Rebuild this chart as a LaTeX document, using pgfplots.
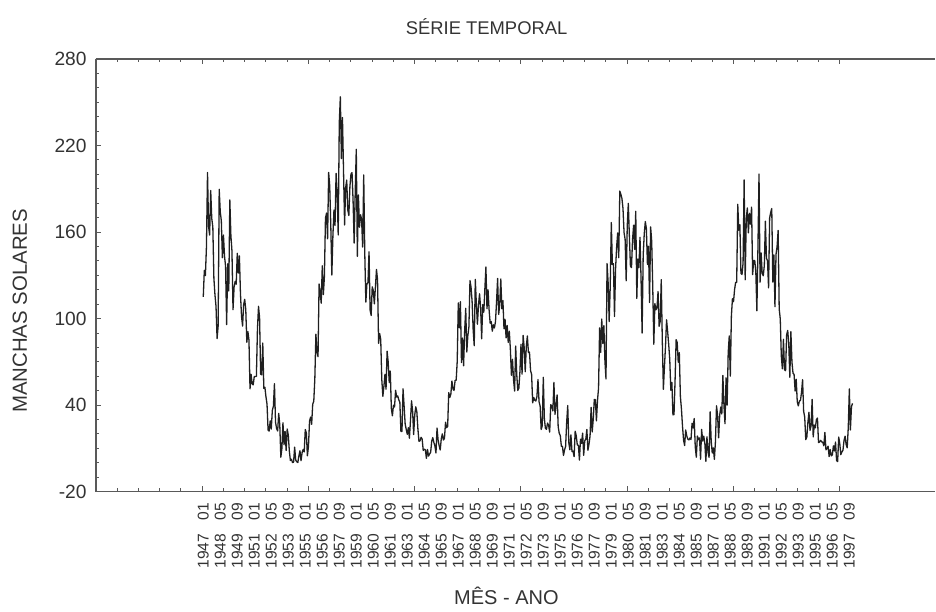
\documentclass[border=0pt]{standalone}
\usepackage{fontspec}
\setmainfont{Liberation Sans}
\usepackage{pgfplots}
\usepackage{pgfplotstable}
\pgfplotsset{compat=1.18}

% Monthly sunspot numbers, January 1947 -- December 1997 (one row per month)
\pgfplotstableread[row sep=\\]{
ssn\\
115.0\\133.4\\129.8\\149.8\\201.3\\163.9\\157.9\\188.8\\169.4\\163.6\\128.0\\116.5\\
108.5\\86.1\\94.8\\189.7\\174.0\\167.8\\142.2\\157.9\\143.3\\136.3\\95.8\\138.0\\
119.1\\182.3\\157.5\\147.0\\106.2\\121.7\\125.8\\123.8\\145.3\\131.6\\143.5\\117.6\\
101.6\\94.8\\109.7\\113.4\\106.2\\83.6\\91.0\\85.2\\51.3\\61.4\\54.8\\54.1\\
59.9\\59.9\\59.9\\92.9\\108.5\\100.6\\61.5\\61.0\\83.1\\51.6\\52.4\\45.8\\
40.7\\22.7\\22.0\\29.1\\23.4\\36.4\\39.3\\54.9\\28.2\\23.8\\22.1\\34.3\\
26.5\\3.9\\10.0\\27.8\\12.5\\21.8\\8.6\\23.5\\19.3\\8.2\\1.6\\2.5\\
0.2\\0.5\\10.9\\1.8\\0.8\\0.2\\4.8\\8.4\\1.5\\7.0\\9.2\\7.6\\
23.1\\20.8\\4.9\\11.3\\28.9\\31.7\\26.7\\40.7\\42.7\\58.5\\89.2\\76.9\\
73.6\\124.0\\118.4\\110.7\\136.6\\116.6\\129.1\\169.6\\173.2\\155.3\\201.3\\192.1\\
165.0\\130.2\\157.4\\175.2\\164.6\\200.7\\187.2\\158.0\\235.8\\253.8\\210.9\\239.4\\
202.5\\164.9\\190.7\\196.0\\175.3\\171.5\\191.4\\200.2\\201.2\\181.5\\152.3\\187.6\\
217.4\\143.1\\185.7\\163.3\\172.0\\168.7\\149.6\\199.6\\145.2\\111.4\\124.0\\125.0\\
146.3\\106.0\\102.2\\122.0\\119.6\\110.2\\121.7\\134.1\\127.2\\82.8\\89.6\\85.6\\
57.9\\46.1\\53.0\\61.4\\51.0\\77.4\\70.2\\55.8\\63.6\\37.7\\32.6\\40.0\\
38.7\\50.3\\45.6\\46.4\\43.7\\42.0\\21.8\\21.8\\51.3\\39.5\\26.9\\23.2\\
19.8\\24.4\\17.1\\29.3\\43.0\\35.9\\19.6\\33.2\\38.8\\35.3\\23.4\\14.9\\
15.3\\17.7\\16.5\\8.6\\9.5\\9.1\\3.1\\9.3\\4.7\\6.1\\7.4\\15.1\\
17.5\\14.2\\11.7\\6.8\\24.1\\15.9\\11.9\\8.9\\16.8\\20.1\\15.8\\17.0\\
28.2\\24.4\\25.3\\48.7\\45.3\\47.7\\56.7\\51.2\\50.2\\57.2\\57.2\\70.4\\
110.9\\93.6\\111.8\\69.5\\86.5\\67.3\\91.5\\107.2\\76.8\\88.2\\94.3\\126.4\\
121.8\\111.9\\92.2\\81.2\\127.2\\110.3\\96.1\\109.3\\117.2\\107.7\\86.0\\109.8\\
104.4\\120.5\\135.8\\106.8\\120.0\\106.0\\96.8\\98.0\\91.3\\95.7\\93.5\\97.9\\
111.5\\127.8\\102.9\\109.5\\127.5\\106.8\\112.5\\93.0\\99.5\\86.6\\95.2\\83.5\\
91.3\\79.0\\60.7\\71.8\\57.5\\49.8\\81.0\\61.4\\50.2\\51.7\\63.2\\82.2\\
61.5\\88.4\\80.1\\63.2\\80.5\\88.0\\76.5\\76.8\\64.0\\61.3\\41.6\\45.3\\
43.4\\42.9\\46.0\\57.7\\42.4\\39.5\\23.1\\25.6\\59.3\\30.7\\23.9\\23.3\\
27.6\\26.0\\21.3\\40.3\\39.5\\36.0\\55.8\\33.6\\40.2\\47.1\\25.0\\20.5\\
18.9\\11.5\\11.5\\5.1\\9.0\\11.4\\28.2\\39.7\\13.9\\9.1\\19.4\\7.8\\
8.1\\4.3\\21.9\\18.8\\12.4\\12.2\\1.9\\16.4\\13.5\\20.6\\5.2\\15.3\\
16.4\\23.1\\8.7\\12.9\\18.6\\38.5\\21.4\\30.1\\44.0\\43.8\\29.1\\43.2\\
51.9\\93.6\\76.5\\99.7\\82.7\\95.1\\70.4\\58.1\\138.2\\125.1\\97.9\\122.7\\
166.6\\137.5\\138.0\\101.5\\134.4\\149.5\\159.4\\142.2\\188.4\\186.2\\183.3\\176.3\\
159.6\\155.0\\126.2\\164.1\\179.9\\157.3\\136.3\\135.4\\155.0\\164.7\\147.9\\174.4\\
114.0\\141.3\\135.5\\156.4\\127.5\\90.0\\143.8\\158.7\\167.3\\162.4\\137.5\\150.1\\
111.2\\163.6\\153.8\\122.0\\82.2\\110.4\\106.1\\107.6\\118.8\\94.7\\98.1\\127.0\\
84.3\\51.0\\66.5\\80.7\\99.2\\91.1\\82.2\\71.8\\50.3\\55.8\\33.3\\33.4\\
57.0\\85.4\\83.5\\69.7\\76.4\\46.1\\37.4\\25.5\\15.7\\12.0\\22.8\\18.7\\
16.5\\15.9\\17.2\\16.2\\27.5\\24.2\\30.7\\11.1\\3.9\\18.6\\16.2\\17.3\\
2.5\\23.2\\15.1\\18.5\\13.7\\1.1\\18.1\\7.4\\3.8\\35.4\\15.2\\6.8\\
10.4\\2.4\\14.7\\39.6\\33.0\\17.4\\33.0\\38.7\\33.9\\60.6\\39.9\\27.1\\
59.0\\40.0\\76.2\\88.0\\60.1\\101.8\\113.8\\111.7\\120.1\\125.1\\125.1\\179.2\\
161.3\\165.1\\131.4\\130.6\\138.5\\196.2\\126.9\\168.9\\176.7\\159.4\\173.0\\165.5\\
177.3\\130.5\\140.3\\140.3\\132.2\\105.4\\149.4\\200.3\\125.2\\145.5\\131.4\\129.7\\
136.9\\167.5\\141.9\\140.0\\121.3\\169.7\\173.7\\176.3\\125.3\\144.1\\108.2\\144.4\\
150.0\\161.1\\106.7\\99.8\\73.8\\65.2\\85.7\\64.5\\63.9\\88.7\\91.8\\82.6\\
59.3\\91.0\\69.8\\62.2\\61.3\\49.8\\57.9\\42.3\\39.5\\42.9\\43.2\\48.8\\
57.7\\35.8\\31.7\\16.1\\17.8\\28.0\\35.1\\22.5\\25.7\\44.0\\18.0\\26.2\\
24.2\\29.9\\31.1\\14.0\\14.5\\15.6\\14.5\\14.3\\11.8\\21.1\\9.0\\10.0\\
11.5\\4.4\\9.2\\4.8\\5.5\\11.8\\8.2\\14.4\\1.6\\0.9\\17.9\\13.3\\
5.7\\7.6\\8.7\\15.5\\18.5\\12.7\\10.4\\24.4\\51.3\\22.8\\39.0\\41.2\\
}\sunspots

\definecolor{axisgray}{gray}{0.35}
\definecolor{textgray}{gray}{0.2}
\newcommand{\ym}[2]{#1\hspace{4.6pt} #2}

\begin{document}
\begin{tikzpicture}
\begin{axis}[
  scale only axis,
  width=420pt, height=216.5pt,
  xmin=-100, xmax=690,
  ymin=-20, ymax=280,
  axis x line*=box,
  axis y line*=left,
  axis line style={axisgray, line width=0.6pt, -},
  every tick/.style={axisgray, line width=0.5pt},
  major tick length=2.6pt,
  minor tick length=1.6pt,
  tick align=inside,
  xtick={-100,0,...,600},
  xticklabels={},
  minor x tick num=4,
  ytick={-20,40,...,280},
  yticklabels={-20,40,100,160,220,280},
  minor y tick num=5,
  yticklabel style={font=\fontsize{9.6}{11}\selectfont, text=textgray, inner sep=0pt},
  yticklabel shift=4.5pt,
  xticklabel shift=5.5pt,
  extra x ticks={1,17,...,609},
  extra x tick labels={
    \ym{1947}{01},\ym{1948}{05},\ym{1949}{09},\ym{1951}{01},\ym{1952}{05},
    \ym{1953}{09},\ym{1955}{01},\ym{1956}{05},\ym{1957}{09},\ym{1959}{01},
    \ym{1960}{05},\ym{1961}{09},\ym{1963}{01},\ym{1964}{05},\ym{1965}{09},
    \ym{1967}{01},\ym{1968}{05},\ym{1969}{09},\ym{1971}{01},\ym{1972}{05},
    \ym{1973}{09},\ym{1975}{01},\ym{1976}{05},\ym{1977}{09},\ym{1979}{01},
    \ym{1980}{05},\ym{1981}{09},\ym{1983}{01},\ym{1984}{05},\ym{1985}{09},
    \ym{1987}{01},\ym{1988}{05},\ym{1989}{09},\ym{1991}{01},\ym{1992}{05},
    \ym{1993}{09},\ym{1995}{01},\ym{1996}{05},\ym{1997}{09}},
  extra x tick style={
    tick style={draw=none},
    tick label style={rotate=90, anchor=east, inner sep=0pt,
      font=\fontsize{7.8}{8}\selectfont, text=textgray}},
  title={SÉRIE TEMPORAL},
  title style={at={(axis description cs:0.4654,1.046)}, anchor=center,
    font=\fontsize{9.2}{11}\selectfont, text=textgray},
  xlabel={MÊS - ANO},
  xlabel style={at={(axis description cs:0.489,-0.240)}, anchor=center,
    font=\fontsize{10}{12}\selectfont, text=textgray},
  ylabel={MANCHAS SOLARES},
  ylabel style={at={(axis description cs:-0.0905,0.418)}, anchor=center,
    font=\fontsize{10.2}{12}\selectfont, text=textgray},
]
\addplot[black!88, line width=0.65pt, line join=round, mark=none]
  table[x expr=\coordindex+1, y=ssn] {\sunspots};
\end{axis}
\path (-48pt,-56.5pt) rectangle (420pt,246pt);
\end{tikzpicture}
\end{document}
